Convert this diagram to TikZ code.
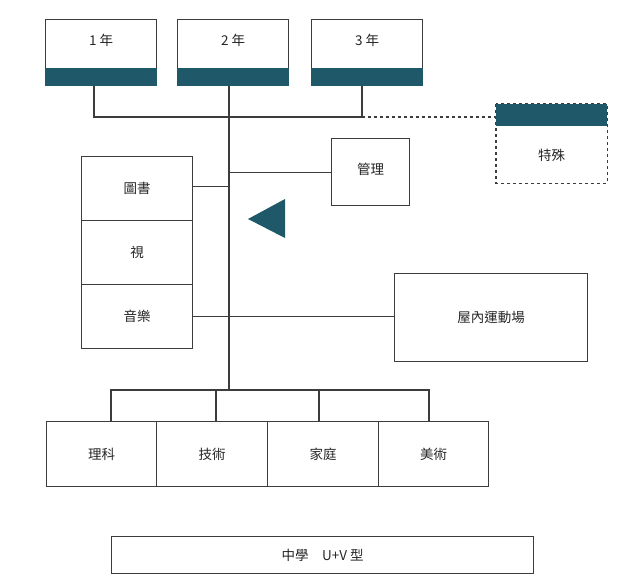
\documentclass[tikz,border=0pt]{standalone}
\usepackage{fontspec}
\newfontfamily\cjk{Noto Sans CJK TC}
\usetikzlibrary{calc}
\definecolor{tealbar}{RGB}{31,88,104}
\definecolor{ln}{RGB}{60,60,60}
\begin{document}
\begin{tikzpicture}[x=1pt,y=-1pt,
  box/.style={draw=ln,line width=1.1pt,fill=white,anchor=north west,inner sep=0pt},
  lbl/.style={font=\cjk\fontsize{13.5}{15}\selectfont,text=black!85,inner sep=0pt},
  wire/.style={draw=ln,line width=1.1pt},
  bar/.style={fill=tealbar}]
\useasboundingbox[fill=white] (0,0) rectangle (640,586);
% junctions
\coordinate (j1) at (94,117);
\coordinate (j2) at (229,117);
\coordinate (j3) at (362,117);
\coordinate (b0) at (229,390);
\coordinate (b1) at (111,390);
\coordinate (b2) at (216,390);
\coordinate (b3) at (319,390);
\coordinate (b4) at (429,390);
% year boxes
\node[box,minimum width=111,minimum height=66] (y1) at (45,19) {};
\node[box,minimum width=111,minimum height=66] (y2) at (177,19) {};
\node[box,minimum width=111,minimum height=66] (y3) at (311,19) {};
\foreach \n/\t in {y1/1 年,y2/2 年,y3/3 年}{
  \fill[bar] ($(\n.south west)+(0,-18)$) rectangle (\n.south east);
  \node[lbl] at ($(\n.north)+(0,21)$) {\t};
}
% special box
\node[box,draw=none,fill=none,minimum width=110,minimum height=78] (sp) at (496,104) {};
\draw[wire,dashed] (sp.north west) rectangle (sp.south east);
\fill[bar] (sp.north west) rectangle ($(sp.north east)+(0,22)$);
\node[lbl] at ($(sp.south)+(0,-28)$) {特殊};
% connectors at top
\draw[wire] (j1 |- y1.south) -- (j1) -- (j3);
\draw[wire] (j3 |- y3.south) -- (j3);
\draw[wire,dashed] (j3) -- (j3 -| sp.west);
\draw[wire] (j2 |- y2.south) -- (b0);
% management
\node[box,minimum width=78,minimum height=67] (mg) at (331,138) {};
\node[lbl] at ($(mg.north)+(0,31)$) {管理};
\draw[wire] (mg.west) -- (mg.west -| j2);
% left stack
\node[box,minimum width=111,minimum height=64] (lib) at (81,156) {};
\node[box,minimum width=111,minimum height=64] (av) at (81,220) {};
\node[box,minimum width=111,minimum height=64] (mus) at (81,284) {};
\node[lbl] at (lib.center) {圖書};
\node[lbl] at (av.center) {視};
\node[lbl] at (mus.center) {音樂};
\draw[wire] ($(lib.east)+(0,-2)$) -- ($(lib.east -| j2)+(0,-2)$);
% gym
\node[box,minimum width=193,minimum height=88] (gym) at (394,273) {};
\node[lbl] at (gym.center) {屋內運動場};
\draw[wire] (mus.east) -- (mus.east -| gym.west);
% triangle
\fill[tealbar] (248,219) -- (285,199) -- (285,238) -- cycle;
% bottom row
\node[box,minimum width=110,minimum height=65] (s1) at (46,421) {};
\node[box,minimum width=111,minimum height=65] (s2) at (156,421) {};
\node[box,minimum width=111,minimum height=65] (s3) at (267,421) {};
\node[box,minimum width=110,minimum height=65] (s4) at (378,421) {};
\node[lbl] at (s1.center) {理科};
\node[lbl] at (s2.center) {技術};
\node[lbl] at (s3.center) {家庭};
\node[lbl] at (s4.center) {美術};
\draw[wire] (b1 |- s1.north) -- (b1) -- (b4) -- (b4 |- s4.north);
\draw[wire] (b2) -- (b2 |- s2.north);
\draw[wire] (b3) -- (b3 |- s3.north);
% caption box
\node[box,minimum width=422,minimum height=37] (cap) at (111,536) {};
\node[lbl] at (cap.center) {中學\quad U+V 型};
\end{tikzpicture}
\end{document}
